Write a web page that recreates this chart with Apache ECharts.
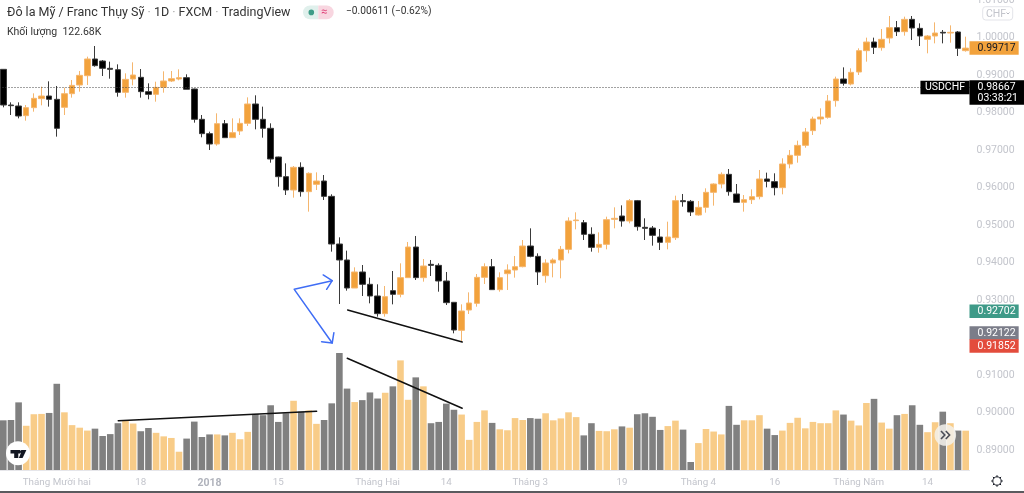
<!DOCTYPE html>
<html><head><meta charset="utf-8">
<style>html,body{margin:0;padding:0;background:#fff}#c{width:1024px;height:493px}</style>
<script src="https://cdn.jsdelivr.net/npm/echarts@6/dist/echarts.min.js"></script>
</head><body><div id="c"></div>
<script>
const opens=[.99151,.98200,.98173,.97916,.98129,.98369,.98440,.98351,.98138,.98502,.98733,.98982,.99427,.99373,.99178,.99142,.98538,.98893,.98938,.98556,.98484,.98671,.98840,.98893,.98929,.98627,.97818,.97436,.97160,.97702,.97329,.97507,.97711,.98227,.97818,.97578,.96813,.96289,.95933,.96538,.95889,.96084,.96173,.95764,.94493,.94067,.93320,.93747,.93418,.93107,.92636,.93249,.93151,.93596,.94413,.93596,.93951,.93924,.93507,.92938,.92191,.92733,.92911,.93604,.93889,.93276,.93702,.93800,.93889,.94440,.94164,.93649,.93987,.94067,.94351,.95116,.95062,.94751,.94404,.94484,.95151,.95240,.95107,.95649,.94938,.94920,.94680,.94538,.94662,.95649,.95631,.95267,.95471,.95871,.96093,.96351,.95827,.95604,.95676,.95756,.96227,.96156,.95996,.96627,.96858,.97124,.97516,.97827,.97871,.98316,.98893,.98760,.99080,.99649,.99880,.99729,.99987,1.00262,1.00156,1.00484,1.00244,.99951,1.00040,1.00138,1.00120,1.00147,.99649];
const closes=[.98200,.98182,.97907,.98129,.98378,.98440,.98351,.97578,.98502,.98724,.98991,.99427,.99249,.99178,.99151,.98538,.98884,.99000,.98556,.98484,.98671,.98840,.98902,.98929,.98618,.97818,.97436,.97160,.97702,.97329,.97462,.97711,.98227,.97818,.97578,.96760,.96289,.95933,.96538,.95889,.96378,.96173,.95764,.94493,.94067,.93320,.93747,.93418,.93107,.92636,.93089,.93151,.93596,.94413,.93596,.93907,.93924,.93507,.92929,.92200,.92707,.92920,.93604,.93889,.93276,.93596,.93800,.93889,.94440,.94164,.93747,.93987,.94067,.94351,.95107,.95133,.94751,.94404,.94484,.95142,.95178,.95107,.95649,.94956,.94911,.94724,.94538,.94680,.95649,.95622,.95347,.95471,.95871,.96093,.96351,.95889,.95604,.95676,.95756,.96227,.96164,.95996,.96627,.96858,.97124,.97480,.97827,.97880,.98307,.98893,.98778,.99071,.99649,.99880,.99738,.99951,1.00262,1.00156,1.00484,1.00253,1.00040,1.00040,1.00120,1.00120,1.00138,.99711,.99717];
const lows=[.98138,.97933,.97844,.97782,.98022,.98191,.98156,.97356,.97933,.98396,.98556,.98733,.99222,.98973,.98902,.98422,.98396,.98724,.98396,.98351,.98289,.98529,.98813,.98858,.98618,.97729,.97338,.97000,.97116,.97320,.97320,.97400,.97640,.97551,.97329,.96662,.96022,.95800,.95729,.95756,.95356,.95933,.95667,.94289,.92893,.93249,.93320,.93107,.92911,.92556,.92556,.92884,.93071,.93596,.93533,.93489,.93640,.93222,.92867,.92111,.91889,.92627,.92822,.93427,.93267,.93222,.93267,.93596,.93871,.94138,.93400,.93462,.93604,.93578,.94244,.94884,.94600,.94289,.94262,.94351,.94911,.94956,.95044,.94849,.94600,.94449,.94333,.94351,.94600,.95489,.95240,.95249,.95329,.95516,.95978,.95782,.95596,.95356,.95560,.95684,.96004,.95791,.95818,.96511,.96662,.97062,.97400,.97684,.97836,.98156,.98716,.98724,.99000,.99356,.99560,.99649,.99844,1.00040,1.00049,.99933,.99773,.99578,.99844,.99844,.99862,.99507,.99622];
const highs=[.99151,.98271,.98271,.98200,.98511,.98689,.98831,.98707,.98662,.98867,.99107,.99489,.99773,.99400,.99356,.99284,.99044,.99338,.99160,.98778,.98822,.99098,.99107,.99151,.99018,.98636,.97933,.97489,.97978,.97800,.97844,.97844,.98404,.98458,.98156,.97711,.96822,.96644,.96573,.96671,.96404,.96404,.96333,.95818,.94671,.94316,.93871,.93933,.93596,.93418,.93373,.93773,.93978,.94547,.94707,.94093,.94067,.93978,.93747,.92947,.92884,.93204,.93693,.93978,.94093,.93738,.93951,.94173,.94600,.94911,.94244,.94084,.94111,.94440,.95204,.95338,.95133,.94938,.94804,.95222,.95471,.95524,.95693,.95667,.95178,.94973,.94893,.95089,.95782,.95827,.95667,.95640,.95978,.96111,.96404,.96493,.96093,.95800,.95951,.96467,.96396,.96378,.96778,.97000,.97249,.97587,.97889,.98111,.98467,.98956,.99204,.99178,.99711,.99996,.99996,1.00227,1.00573,1.00440,1.00556,1.00573,1.00378,1.00067,1.00404,1.00200,1.00324,1.00173,1.00022];
const volumes=[155,156,211,138,174,175,178,269,180,140,132,123,129,106,112,146,156,145,121,131,116,105,100,57,98,151,103,111,111,108,116,96,119,175,171,202,150,177,216,182,186,144,156,208,365,254,212,218,242,223,241,261,342,219,289,261,146,150,207,188,173,94,150,186,147,127,124,162,156,162,160,177,155,161,180,165,108,146,122,121,127,136,132,174,177,166,125,137,154,126,25,84,128,120,111,200,141,155,155,171,129,109,123,147,163,130,150,146,146,186,173,154,139,209,222,148,129,171,175,202,141,118,149,182,146,123,122.68];
const tickIndices=[7,18,27,36,49,58,69,81,91,101,112,121];
const tickLabels=['Tháng Mười hai','18','2018','15','Tháng Hai','14','Tháng 3','19','Tháng 4','16','Tháng Năm','14'];
const lastClose=0.99717, lastPrice=0.98667, priceGreen=0.92702, priceGray=0.92122, priceRed=0.91852;
const trendPrice=[[45.08,.92733],[60.08,.91880]];
const trendVolumeUp=[[15.05,153.8],[41.02,183.1]];
const trendVolumeDown=[[45.03,348.5],[60.08,192.5]];
const arrowStem=[[43.06,.93515],[38.09,.93285],[43.06,.91853]];
const arrowHeadA=[[41.88,.93667],[43.06,.93515],[42.33,.93285]];
const arrowHeadB=[[43.28,.92128],[43.06,.91853],[41.67,.91888]];

const FONT='Roboto,"Liberation Sans",Arial,sans-serif';
const ORANGE='#f2a23c',ORANGE_W='#f5b66e',BLACK='#000',BLACK_W='#3a3a3a';
const categories=opens.map(()=>'');
tickIndices.forEach((t,i)=>{categories[t]=tickLabels[i];});
const candleData=opens.map((o,i)=>[o,closes[i],lows[i],highs[i]]);
const volumeData=volumes.map((v,i)=>({value:v,itemStyle:{color:closes[i]>=opens[i]?'#f8cc88':'#808080'}}));

const tag=(value,text,bg,fg,offsetY,w)=>({yAxis:value,lineStyle:{width:0,color:'transparent'},symbol:'none',
  label:{show:true,position:'end',distance:0,formatter:text,backgroundColor:bg,color:fg,fontFamily:FONT,fontSize:10.5,
    padding:[1.5,w,1,8],lineHeight:11,align:'left',offset:[0,offsetY]}});
const annot=(data,color,width,xi,yi)=>({type:'line',data,xAxisIndex:xi,yAxisIndex:yi,showSymbol:false,silent:true,
  lineStyle:{color,width,cap:'round',join:'round'},z:6,animation:false});
const gearLine=(x1,y1,x2,y2)=>({type:'line',z:20,shape:{x1,y1,x2,y2},style:{stroke:'#131722',lineWidth:1}});

const chart=echarts.init(document.getElementById('c'));
chart.setOption({
  animation:false,backgroundColor:'#fff',tooltip:{show:false},
  grid:[{left:-0.5,top:0,width:970,height:487.5,outerBoundsMode:'none'},{left:-0.5,top:340,width:970,height:130,outerBoundsMode:'none'}],
  xAxis:[
    {type:'category',gridIndex:0,data:categories,show:false},
    {type:'value',gridIndex:0,min:-0.5,max:126.5,show:false},
    {type:'category',gridIndex:1,data:categories,
      axisLine:{show:true,lineStyle:{color:'#e6e6ea'}},axisTick:{show:false},
      axisLabel:{interval:0,margin:8,color:'#c3c5cc',fontFamily:FONT,fontSize:9.8,hideOverlap:false,
        formatter:v=>v==='2018'?'{b|2018}':v,rich:{b:{fontWeight:'bold',color:'#b0b3bc',fontFamily:FONT,fontSize:10.5}}}},
    {type:'value',gridIndex:1,min:-0.5,max:126.5,show:false}
  ],
  yAxis:[
    {type:'value',gridIndex:0,position:'right',min:0.88,max:1.01,interval:0.01,
      splitLine:{show:false},axisLine:{show:false},axisTick:{show:false},
      axisLabel:{margin:7,color:'#c3c5cc',fontFamily:FONT,fontSize:10.5,
        formatter:v=>v<0.885?'':v.toFixed(5)}},
    {type:'value',gridIndex:1,min:0,max:405.6,show:false}
  ],
  series:[
    {type:'bar',xAxisIndex:2,yAxisIndex:1,data:volumeData,barWidth:6.6,silent:true,z:2},
    {type:'candlestick',xAxisIndex:0,yAxisIndex:0,data:candleData,barWidth:6,silent:true,z:3,
      itemStyle:{color:ORANGE,color0:BLACK,borderColor:ORANGE_W,borderColor0:BLACK_W,borderWidth:1},
      markLine:{silent:true,symbol:'none',animation:false,z:8,precision:5,
        data:[
          {yAxis:lastPrice,lineStyle:{color:'#444',type:[1,2],width:1},label:{show:true,position:'insideEnd',distance:0,
            formatter:'USDCHF',backgroundColor:'#000',color:'#fff',fontFamily:FONT,fontSize:10.5,padding:[1.5,4.5,1,4.5],lineHeight:11}},
          tag(lastClose,lastClose.toFixed(5),ORANGE,'#131722',0,3),
          tag(lastPrice,lastPrice.toFixed(5)+'\n03:38:21','#000','#fff',5,6),
          tag(priceGreen,priceGreen.toFixed(5),'#3e9a88','#fff',0,3),
          tag(priceGray,priceGray.toFixed(5),'#7b7d89','#fff',0,3),
          tag(priceRed,priceRed.toFixed(5),'#e34c3c','#fff',3,3)
        ]}},
    annot(trendPrice,'#111',1.5,1,0),
    annot(arrowStem,'#3f6df5',1.5,1,0),
    annot(arrowHeadA,'#3f6df5',1.5,1,0),
    annot(arrowHeadB,'#3f6df5',1.5,1,0),
    annot(trendVolumeUp,'#111',1.5,3,1),
    annot(trendVolumeDown,'#111',1.5,3,1)
  ],
  graphic:[
    {type:'text',left:7,top:6,z:20,style:{text:'Đô la Mỹ / Franc Thụy Sỹ {d|·} 1D {d|·} FXCM {d|·} TradingView',font:'12.5px '+FONT,fill:'#333',
      rich:{d:{fill:'#aaa',font:'12.5px '+FONT}}}},
    {type:'text',left:7,top:26.5,z:20,style:{text:'Khối lượng  122.68K',font:'10.5px '+FONT,fill:'#333'}},
    {type:'text',left:346,top:6.5,z:20,style:{text:'−0.00611 (−0.62%)',font:'10.2px '+FONT,fill:'#333'}},
    {type:'rect',z:20,shape:{x:303,y:5.5,width:15.3,height:13.8,r:[7,0,0,7]},style:{fill:'#e0f0ec'}},
    {type:'rect',z:20,shape:{x:318.3,y:5.5,width:15.4,height:13.8,r:[0,7,7,0]},style:{fill:'#f8d6e0'}},
    {type:'circle',z:21,shape:{cx:311.3,cy:12.4,r:2.8},style:{fill:'#3d9c87'}},
    {type:'text',left:321,top:6.5,z:21,style:{text:'≈',font:'11px '+FONT,fill:'#e0467c'}},
    {type:'rect',z:20,shape:{x:982.7,y:6.7,width:30,height:13.3,r:3},style:{fill:'#fff',stroke:'#e3e4e9',lineWidth:1}},
    {type:'text',left:986,top:8.5,z:21,style:{text:'CHF',font:'10.5px '+FONT,fill:'#c3c5cc'}},
    {type:'polyline',z:21,shape:{points:[[1006.5,12.5],[1008,14],[1009.5,12.5]]},style:{stroke:'#b5b7c0',lineWidth:1,fill:'none'}},
    {type:'circle',z:20,shape:{cx:18,cy:453.3,r:12},style:{fill:'#fff'}},
    {type:'polygon',z:21,shape:{points:[[10.5,450],[20,450],[20,453.4],[18.3,453.4],[18.3,458],[14.2,458],[14.2,453.4],[10.5,453.4]]},style:{fill:'#131722'}},
    {type:'circle',z:21,shape:{cx:21.6,cy:451.7,r:1.7},style:{fill:'#131722'}},
    {type:'polygon',z:21,shape:{points:[[22.6,458],[18.9,458],[22,450],[26.4,450]]},style:{fill:'#131722'}},
    {type:'circle',z:20,shape:{cx:945.3,cy:435,r:10.8},style:{fill:'rgba(243,241,235,0.86)'}},
    {type:'polyline',z:21,shape:{points:[[941,431],[944.8,435],[941,439]]},style:{stroke:'#4a4d57',lineWidth:1.6,fill:'none'}},
    {type:'polyline',z:21,shape:{points:[[945.8,431],[949.6,435],[945.8,439]]},style:{stroke:'#4a4d57',lineWidth:1.6,fill:'none'}},
    {type:'circle',z:20,shape:{cx:997,cy:481,r:4.2},style:{stroke:'#131722',lineWidth:1,fill:'none'}},
    gearLine(997,475.2,997,476.8),gearLine(997,485.2,997,486.8),gearLine(991.2,481,992.8,481),gearLine(1001.2,481,1002.8,481),
    gearLine(992.9,476.9,994,478),gearLine(1000,484,1001.1,485.1),gearLine(992.9,485.1,994,484),gearLine(1000,478,1001.1,476.9),
    {type:'rect',z:20,shape:{x:0,y:491,width:1024,height:2},style:{fill:'#5a5a5e'}}
  ]
});
</script></body></html>
